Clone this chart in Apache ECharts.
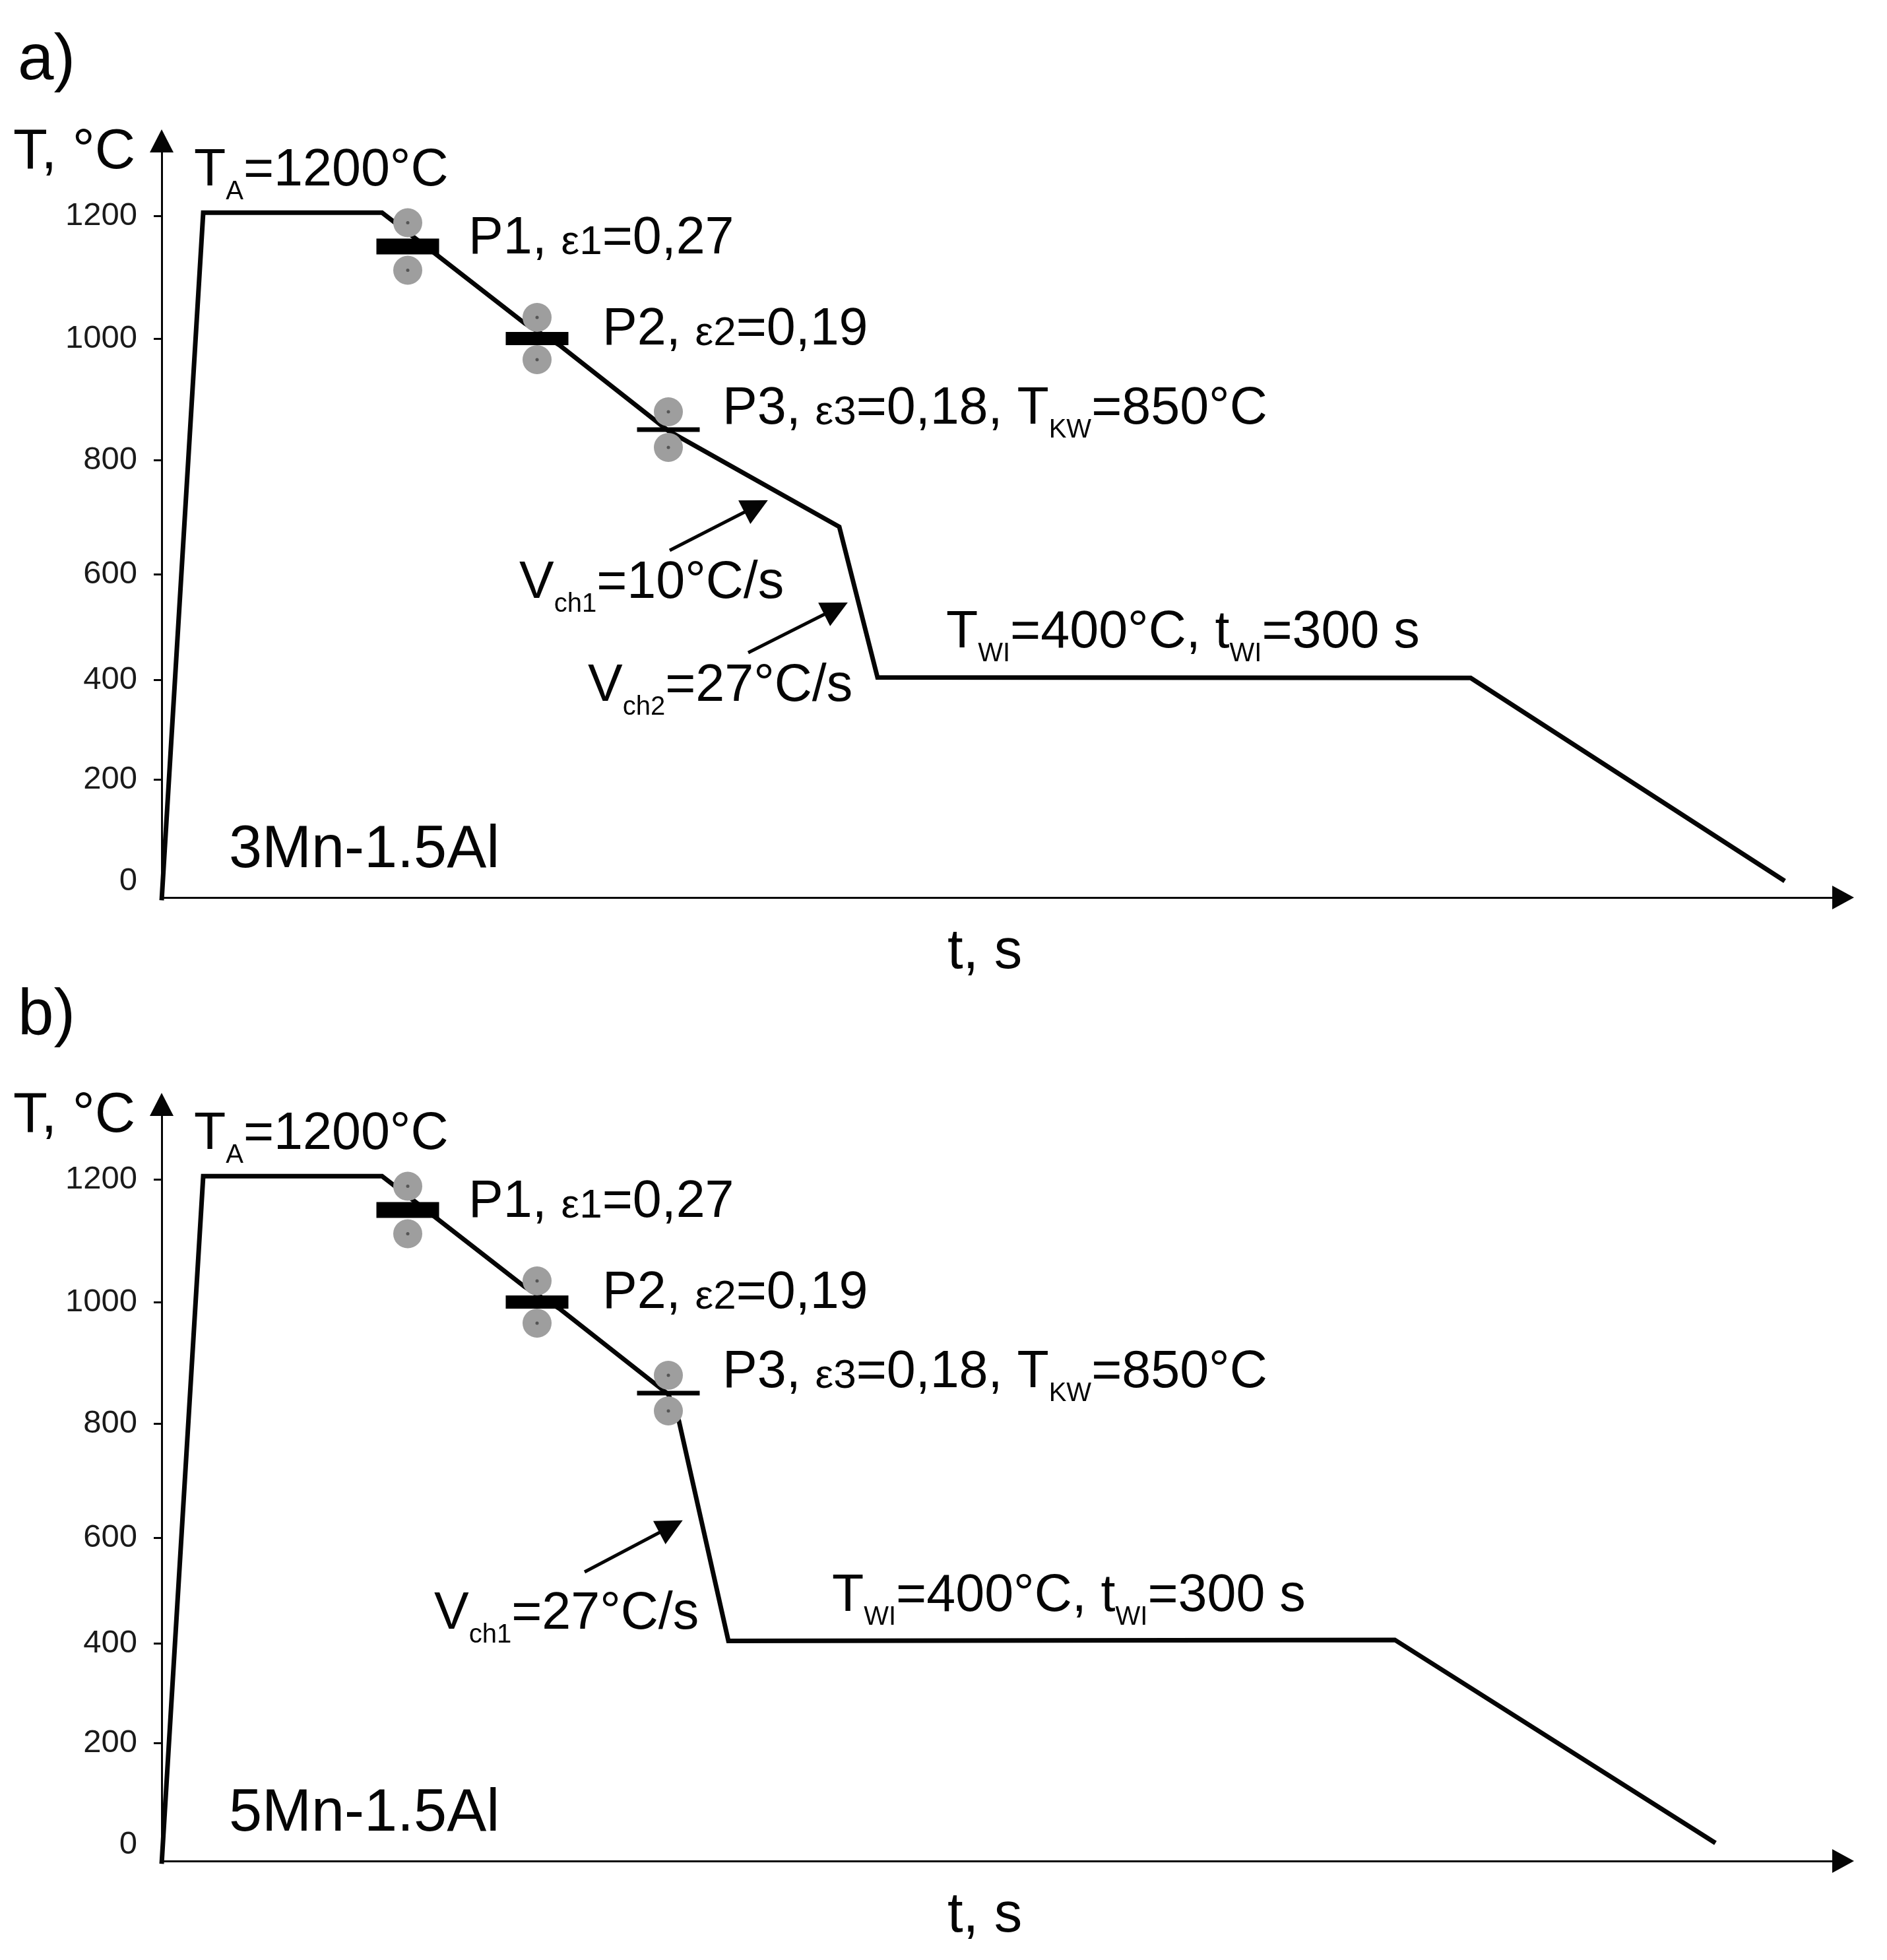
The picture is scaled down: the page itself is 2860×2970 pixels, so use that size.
<!DOCTYPE html>
<html>
<head>
<meta charset="utf-8">
<style>html,body{margin:0;padding:0;background:#fff}#main{width:2860px;height:2970px}</style>
<script src="https://cdn.jsdelivr.net/npm/echarts@6/dist/echarts.min.js"></script>
</head>
<body>
<div id="main"></div>
<script>
// temperature, degC, and time in schematic units (the t axis has no scale)
var timeA = [0, 63, 334, 416, 550, 603, 768, 1027, 1085, 1984, 2460];
var tempA = [-38, 1205, 1205, 1137, 1025, 989, 848, 683, 405, 404, 0];
var timeB = [0, 63, 334, 416, 550, 603, 768, 784, 859, 1869, 2355];
var tempB = [-38, 1205, 1205, 1137, 1025, 989, 848, 804, 405, 407, 3];

var passTimes = [373, 569, 768];
var passTemps = [1150, 1000, 850];

var tickLabels = ['0', '200', '400', '600', '800', '1000', '1200'];
var tickTemps = [0, 200, 400, 600, 800, 1000, 1200];

// the printed T axis is not evenly spaced, so this is where each tick sits on it
var tickHeights = [25, 179, 329.5, 490, 663, 847, 1033];

var panelGap = 1460;
var axisTop = 1146.5;
var axisRight = 2548.5;
var ink = '#050505';
var font = '"Liberation Sans", Arial, sans-serif';

function tempToAxis(temp) {
    var i = 0;
    while (i < tickTemps.length - 2 && temp > tickTemps[i + 1]) i++;
    var k = (tickHeights[i + 1] - tickHeights[i]) / (tickTemps[i + 1] - tickTemps[i]);
    return tickHeights[i] + (temp - tickTemps[i]) * k;
}

function pairs(xs, ys) {
    return xs.map(function (x, i) { return [x, tempToAxis(ys[i])]; });
}

var rich = {
    m: { fontSize: 79, fontFamily: font, lineHeight: 110, color: ink },
    s: { fontSize: 40, fontFamily: font, height: 46, verticalAlign: 'bottom', color: '#222' },
    e: { fontSize: 62, fontFamily: font, height: 98, verticalAlign: 'bottom', color: ink }
};

function note(x, y, text, size) {
    return {
        type: 'text', x: x, y: y, z: 20,
        style: {
            text: text, rich: size ? undefined : rich, fill: ink,
            fontFamily: font, fontSize: size || 79,
            align: 'left', verticalAlign: 'middle'
        }
    };
}

function panelNotes(off, letterY, letter, alloy) {
    return [
        note(27, letterY, letter, 98),
        note(20, 232 + off, 'T, °C', 85),
        note(294, 259 + off, '{m|T}{s|A}{m|=1200°C}'),
        note(710, 362 + off, '{m|P1, }{e|ε1}{m|=0,27}'),
        note(913, 500 + off, '{m|P2, }{e|ε2}{m|=0,19}'),
        note(1095, 620 + off, '{m|P3, }{e|ε3}{m|=0,18, T}{s|KW}{m|=850°C}'),
        note(347, 1289 + off, alloy, 90),
        note(1436, 1444 + off, 't, s', 85)
    ];
}

var graphics = panelNotes(0, 93, 'a)', '3Mn-1.5Al')
    .concat(panelNotes(panelGap, 1540, 'b)', '5Mn-1.5Al'))
    .concat([
        note(787, 884, '{m|V}{s|ch1}{m|=10°C/s}'),
        note(891, 1040, '{m|V}{s|ch2}{m|=27°C/s}'),
        note(1434, 959, '{m|T}{s|WI}{m|=400°C, t}{s|WI}{m|=300 s}'),
        note(658, 2446, '{m|V}{s|ch1}{m|=27°C/s}'),
        note(1261, 959 + panelGap, '{m|T}{s|WI}{m|=400°C, t}{s|WI}{m|=300 s}')
    ]);

function xAxisOf(grid) {
    return {
        type: 'value', gridIndex: grid, min: 0, max: axisRight,
        splitLine: { show: false }, axisTick: { show: false }, axisLabel: { show: false },
        axisLine: {
            show: true, onZero: false, symbol: ['none', 'triangle'], symbolSize: [36, 33],
            lineStyle: { color: ink, width: 3 }
        }
    };
}

function yAxesOf(grid) {
    var tickOnly = tickHeights.slice(1);
    return [{
        type: 'value', gridIndex: grid, min: 0, max: axisTop,
        splitLine: { show: false },
        axisLine: {
            show: true, onZero: false, symbol: ['none', 'triangle'], symbolSize: [36, 35],
            lineStyle: { color: ink, width: 3 }
        },
        axisTick: { show: true, length: 12, customValues: tickOnly, lineStyle: { color: ink, width: 3 } },
        axisLabel: {
            show: true, margin: 37, color: '#1a1a1a', fontSize: 49, fontFamily: font,
            customValues: tickHeights,
            formatter: function (v) { return tickLabels[tickHeights.indexOf(v)]; }
        }
    }, {
        // second axis only for the inner half of the crossing ticks
        type: 'value', gridIndex: grid, min: 0, max: axisTop,
        splitLine: { show: false }, axisLine: { show: false }, axisLabel: { show: false },
        axisTick: { show: true, inside: true, length: 12, customValues: tickOnly, lineStyle: { color: ink, width: 3 } }
    }];
}

function arrowSeries(grid, yAxis, start, end) {
    return {
        type: 'line', xAxisIndex: grid, yAxisIndex: yAxis, data: [], silent: true, z: 6,
        markLine: {
            silent: true, animation: false, symbol: ['none', 'triangle'], symbolSize: [40, 40],
            label: { show: false }, emphasis: { disabled: true },
            lineStyle: { color: ink, width: 5, type: 'solid' },
            data: [[{ coord: start }, { coord: end }]]
        }
    };
}

function panelSeries(grid, yAxis, times, temps) {
    var topRoll = [], lowRoll = [], bars = [];
    var gaps = [36, 32, 27];
    var barHeights = [24, 20, 7];
    passTimes.forEach(function (t, i) {
        var h = tempToAxis(passTemps[i]);
        topRoll.push([t, h + gaps[i]]);
        lowRoll.push([t, h - gaps[i]]);
        bars.push({ value: [t, h], symbolSize: [95, barHeights[i]] });
    });
    var rollers = topRoll.concat(lowRoll);
    return [{
        type: 'line', xAxisIndex: grid, yAxisIndex: yAxis, data: pairs(times, temps),
        showSymbol: false, clip: false, z: 2,
        lineStyle: { color: ink, width: 7, join: 'miter' }
    }, {
        type: 'scatter', xAxisIndex: grid, yAxisIndex: yAxis, data: rollers, clip: false,
        symbolSize: 44, z: 3, itemStyle: { color: '#9e9e9e', opacity: 1 }
    }, {
        type: 'scatter', xAxisIndex: grid, yAxisIndex: yAxis, data: rollers, clip: false,
        symbolSize: 5, z: 4, itemStyle: { color: '#555', opacity: 1 }
    }, {
        type: 'scatter', xAxisIndex: grid, yAxisIndex: yAxis, data: bars, clip: false,
        symbol: 'rect', z: 5, itemStyle: { color: '#000', opacity: 1 }
    }];
}

var option = {
    animation: false,
    backgroundColor: '#fff',
    grid: [
        { left: 245, top: 213.5, width: axisRight, height: axisTop },
        { left: 245, top: 213.5 + panelGap, width: axisRight, height: axisTop }
    ],
    xAxis: [xAxisOf(0), xAxisOf(1)],
    yAxis: yAxesOf(0).concat(yAxesOf(1)),
    series: panelSeries(0, 0, timeA, tempA)
        .concat(panelSeries(1, 2, timeB, tempB))
        .concat([
            arrowSeries(0, 0, [770, 526], [901, 593]),
            arrowSeries(0, 0, [889, 371], [1022, 438]),
            arrowSeries(1, 2, [641, 438], [772, 507])
        ]),
    graphic: graphics
};

var myChart = echarts.init(document.getElementById('main'));
myChart.setOption(option);
</script>
</body>
</html>
